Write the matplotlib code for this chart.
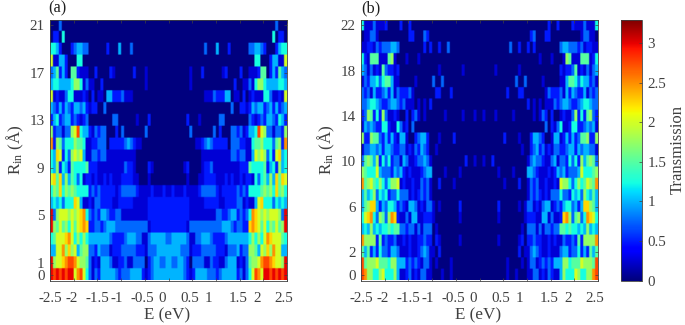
import numpy as np
import matplotlib
matplotlib.use("Agg")
import matplotlib.pyplot as plt
from matplotlib.transforms import ScaledTranslation

plt.rcParams['font.family'] = ['Liberation Serif', 'DejaVu Serif']
plt.rcParams['mathtext.fontset'] = 'custom'
plt.rcParams['mathtext.rm'] = 'Liberation Serif'
plt.rcParams['mathtext.default'] = 'rm'

# Half-spectrum (E = -2.5 .. 0) per row, top row first; hex digit = T / 0.25
rows_a = [
    "0003",
    "02205",
    "5542000234433" "000000" "2" "000" "4" "000" "3",
    "81144200055",
    "3462420662111" "00" "2" "0000" "21" "000000" "2" "000" "1",
    "45544445775131100" "2" "00000000000000" "1",
    "8121135511121020110442223111",
    "4324243244342" "122003",
    "2452344232123" "00000000" "33" "000000" "1" "000" "2",
    "723313378b5442" "13233" "000" "2" "0" "3" "0000000" "3",
    "a276355576651122333" "0" "22222" "343211",
    "5498253787841133233" "1111111111",
    "547254265555622211111" "1111" "3221" "0000" "21",
    "8969474653512212112121112222110001",
    "5769576765555232322222123333321111211121",
    "4545355598411213322221122222111112222222",
    "c3788878789a532324432233" "111111111" "2222222",
    "c7686758689a92233234443" "33333333331" "222222",
    "568889a857575" "4444444" "3" "2222" "3" "444" "33" "11" "344444" "3",
    "4488a7978467733243331222" "33333" "222" "1" "3334444",
    "c7889abba87763121444311223113333023" "44" "334",
    "cbcbcbcc8ab8531324444432333444421" "23" "44444",
]
rows_b = [
    "511131112" "0000" "2" "00" "2",
    "011331" "0000000000" "22" "000" "32",
    "1122132333443" "00000000" "2" "0" "2" "00" "2" "00" "3",
    "521666111671" "000" "1" "000" "1",
    "4313121632212" "0000000000000" "1" "0000000" "1",
    "1324453566411" "00000" "1" "00000" "3" "00" "3",
    "323142234241322231" "0000000" "22" "000" "2",
    "334554322344323111" "0" "1" "0" "1" "0" "2",
    "2376252731121" "00" "2" "0" "231" "0" "1" "000000" "1" "00000" "1" "000" "1",
    "143432255211" "5312" "03",
    "7227663242421441" "00" "23442" "000" "1" "0000" "2",
    "13344342443223312132432" "001",
    "367647253523314311233431" "00000000000" "2" "00" "1",
    "765558433324342121112344" "0000" "1" "0000" "1",
    "a67865753577812112113231" "00" "2" "0000" "1",
    "464573545233533" "312123231",
    "467994243554232144312133101" "000000" "2",
    "589a537637a92113144112221" "00000000" "1",
    "45474545565663323313133301",
    "a77772623223112121122322" "021" "000000" "1",
    "6462425332443111211234311" "02",
    "b67778666577444232321331" "01" "0000" "1",
    "ba7755785557411231213311" "000" "1" "00" "1",
]
e_ticks = [-2.5, -2, -1.5, -1, -0.5, 0, 0.5, 1, 1.5, 2, 2.5]
e_labels = ["-2.5", "-2", "-1.5", "-1", "-0.5", "0", "0.5", "1", "1.5", "2", "2.5"]
e_label_shift_px = [0, -2, 0, -4, -2, -6, -2, -7, -2, -6, -3]
r_ticks_a = [0, 1, 5, 9, 13, 17, 21]
r_ticks_b = [0, 2, 6, 10, 14, 18, 22]
cbar_ticks = [0, 0.5, 1, 1.5, 2, 2.5, 3]
cbar_labels = ["0", "0.5", "1", "1.5", "2", "2.5", "3"]
T_MAX = 3.3
N_HALF = 40


def decode(rows):
    out = []
    for r in rows:
        half = [int(c, 16) * 0.25 for c in r.ljust(N_HALF, "0")[:N_HALF]]
        out.append(half + half[::-1])
    return np.array(out[::-1])


W, H = 685, 325
FS = 10.8
GREY = "#404040"
fig = plt.figure(figsize=(W / 100, H / 100), dpi=100)


def add_axes_px(x0, x1, y0, y1):
    return fig.add_axes([x0 / W, 1 - y1 / H, (x1 - x0) / W, (y1 - y0) / H])


def panel(x0, x1, rows, rticks, tag, tagx):
    ax = add_axes_px(x0, x1, 19.5, 280.5)
    data = decode(rows)
    # repeat cells so the bilinear filter softens only their edges, not the whole cell
    soft = np.repeat(np.repeat(data, 8, axis=0), 2, axis=1)
    im = ax.imshow(soft, origin="lower", aspect="auto", cmap="jet", vmin=0, vmax=T_MAX,
                   extent=[-2.5, 2.5, -0.5, len(rows) - 0.5], interpolation="bilinear")
    ax.set_xticks(e_ticks)
    ax.set_xticklabels(e_labels, fontsize=FS, color=GREY)
    ax.set_yticks(rticks)
    ax.set_yticklabels([str(t) for t in rticks], fontsize=FS, color=GREY)
    ax.tick_params(direction="in", length=2.2, width=0.5, color=GREY, top=True, right=True,
                   pad=4)
    ax.tick_params(axis="x", pad=8)
    for lab, dx in zip(ax.get_xticklabels(), e_label_shift_px):
        lab.set_transform(lab.get_transform() +
                          ScaledTranslation(dx / 100, 0, fig.dpi_scale_trans))
    for s in ax.spines.values():
        s.set_linewidth(0.6)
        s.set_color(GREY)
    fig.text(((x0 + x1) / 2 - 1) / W, 1 - 315.5 / H, "E (eV)", fontsize=FS + 1.5, color=GREY,
             ha="center", va="center")
    fig.text((x0 - 35) / W, 1 - 150 / H, r"R$_{\mathrm{in}}$ (Å)", fontsize=FS + 1.5, color=GREY,
             rotation=90, ha="center", va="center")
    fig.text(tagx / W, 1 - 8 / H, tag, fontsize=FS + 1, color="#202020", ha="left", va="center")
    return im


im = panel(50, 287, rows_a, r_ticks_a, "(a)", 48)
panel(361, 598, rows_b, r_ticks_b, "(b)", 361)

cax = add_axes_px(621, 642, 19.5, 280.5)
cb = fig.colorbar(im, cax=cax)
cb.set_ticks(cbar_ticks)
cb.set_ticklabels(cbar_labels)
cb.ax.tick_params(direction="in", length=2.2, width=0.5, color=GREY, labelsize=FS,
                  labelcolor=GREY, pad=4)
cb.outline.set_linewidth(0.6)
cb.outline.set_edgecolor(GREY)
fig.text(677.5 / W, 1 - 150 / H, "Transmission", fontsize=FS + 1.2, color=GREY, rotation=90,
         ha="center", va="center")

fig.savefig("out.png", dpi=100)
